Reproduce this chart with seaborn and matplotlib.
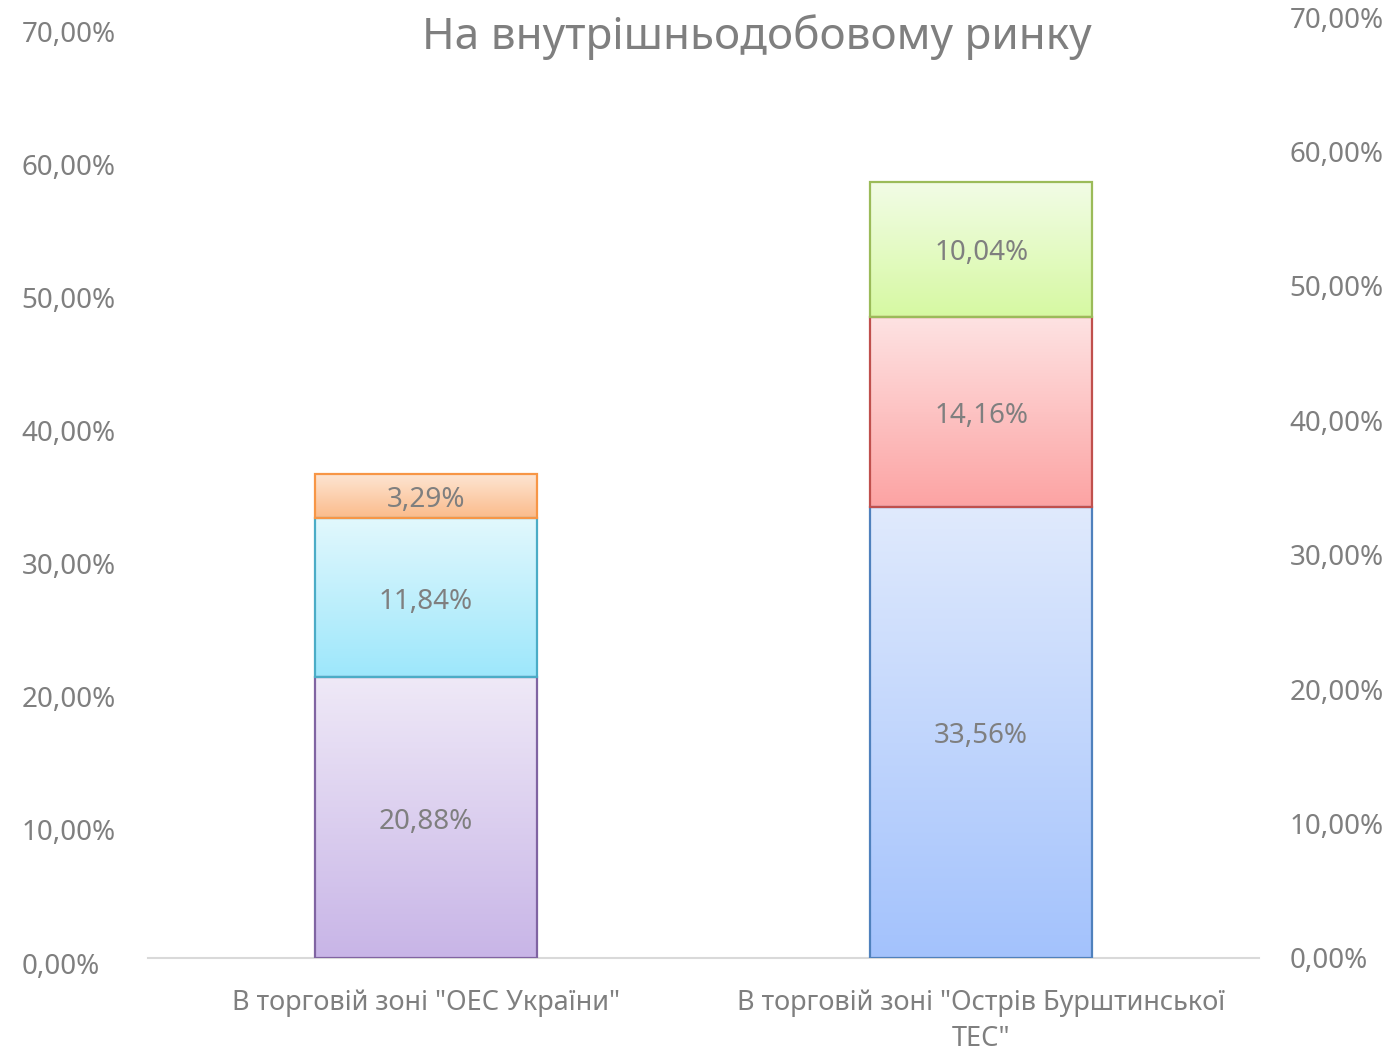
import numpy as np
import pandas as pd
import matplotlib
matplotlib.use("Agg")
import matplotlib.pyplot as plt
import matplotlib.transforms as mtransforms
from matplotlib.colors import LinearSegmentedColormap
from matplotlib.ticker import FuncFormatter
import seaborn as sns

sns.set_theme(style="white")
plt.rcParams["font.family"] = ["Noto Sans", "DejaVu Sans"]

# Data
zones = ['В торговій зоні "ОЕС України"', 'В торговій зоні "Острів Бурштинської\nТЕС"']
segment_zone = [0, 0, 0, 1, 1, 1]
segment_values = [20.88, 11.84, 3.29, 33.56, 14.16, 10.04]
segment_labels = ["20,88%", "11,84%", "3,29%", "33,56%", "14,16%", "10,04%"]
title = "На внутрішньодобовому ринку"

# Styles: (top colour, bottom colour, edge colour)
segment_styles = [
    ("#efe9f7", "#c8b5e7", "#8064a2"),
    ("#e2f8fd", "#9de7fb", "#4bacc6"),
    ("#fde6d4", "#fbbb8b", "#f79646"),
    ("#e0eafd", "#a3c2fc", "#4f81bd"),
    ("#fee3e3", "#fca3a3", "#c0504d"),
    ("#f2fce6", "#d6f9a2", "#9bbb59"),
]

text_grey = "#7f7f7f"

bottoms = []
running = {}
for z, v in zip(segment_zone, segment_values):
    b = running.get(z, 0.0)
    bottoms.append(b)
    running[z] = b + v

df = pd.DataFrame({
    "zone": [zones[z] for z in segment_zone],
    "value": segment_values,
    "bottom": bottoms,
    "label": segment_labels,
})

fig = plt.figure(figsize=(13.96, 10.56), dpi=100)
W, H = 1396, 1056
ax = fig.add_axes([148 / W, 1 - 958 / H, (1259 - 148) / W, (958 - 17) / H])
ax2 = ax.twinx()

label_shift = mtransforms.ScaledTranslation(0, -4 / 100, fig.dpi_scale_trans)

for i, row in df.iterrows():
    n_before = len(ax.patches)
    sns.barplot(data=df.iloc[[i]], x="zone", y="value", order=zones,
                bottom=row["bottom"], width=0.4, ax=ax,
                color=segment_styles[i][1], linewidth=0, saturation=1)
    new = [p for p in ax.patches[n_before:] if p.get_height() > 0]
    top_c, bot_c, edge_c = segment_styles[i]
    for p in new:
        x0, y0 = p.get_x(), p.get_y()
        w, h = p.get_width(), p.get_height()
        cmap = LinearSegmentedColormap.from_list("g", [bot_c, top_c])
        grad = np.linspace(0, 1, 256).reshape(-1, 1)
        im = ax.imshow(grad, cmap=cmap, aspect="auto", origin="lower",
                       extent=(x0, x0 + w, y0, y0 + h), zorder=2,
                       interpolation="bilinear")
        im.set_clip_path(p)
        p.set_facecolor("none")
        p.set_edgecolor(edge_c)
        p.set_linewidth(1.6)
        p.set_zorder(3)
        ax.text(x0 + w / 2, y0 + h / 2, row["label"], ha="center", va="center",
                fontsize=20, color=text_grey, zorder=4,
                transform=ax.transData + label_shift)

ax.set_xlim(-0.5, 1.5)
ax.set_ylim(0, 70)
ax.set_xlabel("")
ax.set_ylabel("")

for s in ["top", "left", "right"]:
    ax.spines[s].set_visible(False)
ax.spines["bottom"].set_color("#d9d9d9")
ax.spines["bottom"].set_linewidth(1.5)

pct = FuncFormatter(lambda v, _: f"{v:.2f}".replace(".", ",") + "%")

# Right-hand scale (the bars' scale)
ax.yaxis.tick_right()
ax.set_yticks(np.arange(0, 71, 10))
ax.yaxis.set_major_formatter(pct)
ax.tick_params(axis="y", length=0, pad=22, labelsize=20, labelcolor=text_grey,
               left=False, labelleft=False, right=True, labelright=True)
ax.tick_params(axis="x", length=0, pad=22, labelsize=19.5, labelcolor=text_grey)
for lbl in ax.get_xticklabels():
    lbl.set_linespacing(1.42)
    lbl.set_verticalalignment("top")

# Left-hand scale
ax2.set_ylim(0, 70.75)
ax2.yaxis.tick_left()
ax2.set_yticks(np.arange(0, 71, 10))
ax2.yaxis.set_major_formatter(pct)
ax2.tick_params(axis="y", length=0, pad=91, labelsize=20, labelcolor=text_grey,
                left=True, labelleft=True, right=False, labelright=False)
for s in ax2.spines.values():
    s.set_visible(False)
shift = mtransforms.ScaledTranslation(0, -5 / 100, fig.dpi_scale_trans)
for lbl in ax2.get_yticklabels():
    lbl.set_horizontalalignment("left")
    lbl.set_transform(lbl.get_transform() + shift)
ax2.grid(False)
ax.grid(False)

fig.text(757 / W, 1 - 37 / H, title, ha="center", va="center",
         fontsize=31.7, color=text_grey)

fig.savefig("out.png", dpi=100, facecolor="white")
